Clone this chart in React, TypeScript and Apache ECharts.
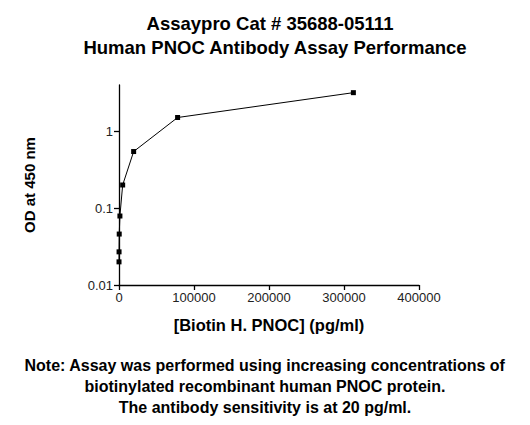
import { useEffect, useRef } from 'react';
import * as echarts from 'echarts';

// concentration (pg/ml) vs OD at 450 nm
const concentrations = [19, 76, 305, 1221, 4883, 19531, 78125, 312500];
const odValues = [0.02, 0.027, 0.046, 0.079, 0.2, 0.545, 1.51, 3.18];

const titleLines = ['Assaypro Cat # 35688-05111', 'Human PNOC Antibody Assay Performance'];
const noteLines = [
  'Note: Assay was performed using increasing concentrations of',
  'biotinylated recombinant human PNOC protein.',
  'The antibody sensitivity is at 20 pg/ml.',
];

const FONT = '"Liberation Sans", Arial, sans-serif';

const App = () => {
  const chartRef = useRef<HTMLDivElement>(null);

  useEffect(() => {
    document.body.style.margin = '0';
    const chart = echarts.init(chartRef.current!, null, { renderer: 'svg' });

    const titleTexts = titleLines.map((line, i) => ({
      type: 'text',
      x: i === 0 ? 270 : 275,
      y: 23 + i * 24,
      style: {
        text: line,
        fontFamily: FONT,
        fontSize: 18.5,
        fontWeight: 'bold',
        fill: '#000',
        align: 'center',
        verticalAlign: 'middle',
      },
    }));
    const noteTexts = noteLines.map((line, i) => ({
      type: 'text',
      left: 'center',
      top: 357 + i * 21,
      style: { text: line, fontFamily: FONT, fontSize: 16, fontWeight: 'bold', fill: '#000' },
    }));

    chart.setOption({
      animation: false,
      backgroundColor: '#fff',
      textStyle: { fontFamily: FONT },
      graphic: [...titleTexts, ...noteTexts],
      grid: { left: 119, right: 111, top: 85, bottom: 140 },
      xAxis: {
        type: 'value',
        min: 0,
        max: 400000,
        interval: 100000,
        name: '[Biotin H. PNOC] (pg/ml)',
        nameLocation: 'middle',
        nameGap: 31,
        nameTextStyle: { fontFamily: FONT, fontSize: 16.5, fontWeight: 'bold', color: '#000' },
        axisLine: { lineStyle: { color: '#000', width: 1.3 } },
        axisTick: { length: 5, lineStyle: { color: '#000', width: 1.3 } },
        axisLabel: { fontFamily: FONT, fontSize: 13, color: '#222', margin: 6, formatter: (v: number) => String(v) },
        splitLine: { show: false },
      },
      yAxis: {
        type: 'log',
        logBase: 10,
        min: 0.01,
        max: 4,
        interval: 1,
        name: 'OD at 450 nm',
        nameLocation: 'middle',
        nameGap: 82,
        nameTextStyle: { fontFamily: FONT, fontSize: 15, fontWeight: 'bold', color: '#000' },
        axisLine: { show: true, lineStyle: { color: '#000', width: 1.3 } },
        axisTick: { show: true, length: 5, lineStyle: { color: '#000', width: 1.3 } },
        axisLabel: {
          fontFamily: FONT,
          fontSize: 13,
          color: '#222',
          margin: 6,
          showMaxLabel: false,
          formatter: (v: number) => String(v),
        },
        splitLine: { show: false },
      },
      series: [
        {
          type: 'line',
          data: concentrations.map((c, i) => [c, odValues[i]]),
          symbol: 'rect',
          symbolSize: 5,
          lineStyle: { color: '#000', width: 1 },
          itemStyle: { color: '#000' },
        },
      ],
    });

    return () => {
      chart.dispose();
    };
  }, []);

  return <div ref={chartRef} style={{ width: 530, height: 425 }} />;
};

export default App;
